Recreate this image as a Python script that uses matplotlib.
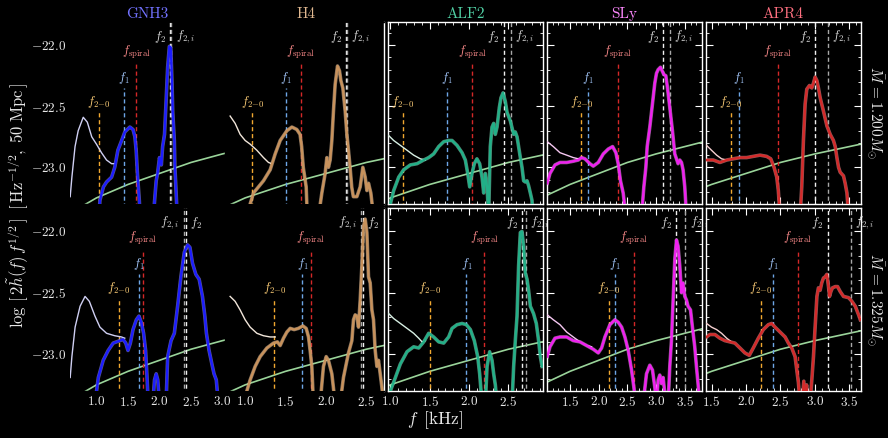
import matplotlib
matplotlib.use("Agg")
import matplotlib.pyplot as plt
from matplotlib.ticker import MultipleLocator
import matplotlib.patheffects as pe

plt.rcParams['font.family'] = 'serif'
plt.rcParams['font.serif'] = ['cmr10', 'DejaVu Serif']
plt.rcParams['mathtext.fontset'] = 'cm'
plt.rcParams['axes.formatter.use_mathtext'] = True

### EOS names and masses
eos_names = ['GNH3', 'H4', 'ALF2', 'SLy', 'APR4']
mass_labels = [r'$\bar{M}\,=1.200M_{\odot}$', r'$\bar{M}\,=1.325M_{\odot}$']

### detector noise curve (log10 of sqrt(S_n))
noise_f = [0.5, 0.8, 1.0, 1.5, 2.0, 2.5, 3.0, 3.5, 4.0]
noise_h = [-23.42, -23.31, -23.25, -23.14, -23.05, -22.96, -22.89, -22.83, -22.77]

### characteristic frequencies [kHz], one value per EOS
f20_1200 = [1.04, 1.09, 1.16, 1.70, 1.78]
f1_1200 = [1.44, 1.50, 1.72, 1.81, 1.90]
fsp_1200 = [1.63, 1.69, 2.04, 2.33, 2.46]
f2_1200 = [2.17, 2.25, 2.44, 3.12, 3.00]
f2i_1200 = [2.19, 2.26, 2.53, 3.24, 3.19]

f20_1325 = [1.36, 1.363, 1.508, 2.184, 2.218]
f1_1325 = [1.674, 1.71, 1.966, 2.283, 2.389]
fsp_1325 = [1.737, 1.814, 2.194, 2.613, 2.752]
f2_1325 = [2.42, 2.46, 2.673, 3.355, 3.184]
f2i_1325 = [2.383, 2.434, 2.728, 3.51, 3.528]

### M = 1.200 spectra (inspiral part / post-merger part)
g12_insp_f = [0.583, 0.61, 0.66, 0.71, 0.79, 0.855, 0.925, 1.0, 1.08, 1.16, 1.24, 1.29]
g12_insp_h = [-23.24, -23.08, -22.83, -22.70, -22.59, -22.63, -22.75, -22.81, -22.88, -22.94, -22.97, -22.97]
g12_pm_f = [1.03, 1.055, 1.11, 1.16, 1.24, 1.29, 1.34, 1.40, 1.45, 1.53, 1.58, 1.61, 1.63, 1.65, 1.68, 1.70,
            1.90, 1.92, 1.948, 1.97, 2.0, 2.03, 2.05, 2.08, 2.105, 2.13, 2.157, 2.18, 2.20, 2.21, 2.236, 2.245,
            2.26, 2.29]
g12_pm_h = [-23.5, -23.27, -23.16, -23.12, -23.08, -23.0, -22.86, -22.78, -22.71, -22.67, -22.69, -22.75, -22.86,
            -23.05, -23.27, -23.5, -23.5, -23.29, -23.11, -23.05, -22.92, -22.98, -22.83, -22.73, -22.46, -22.18,
            -22.01, -22.02, -22.32, -22.54, -22.78, -23.0, -23.16, -23.5]

h12_insp_f = [0.814, 0.876, 0.938, 1.0, 1.062, 1.145, 1.227, 1.289, 1.33]
h12_insp_h = [-22.58, -22.64, -22.73, -22.78, -22.81, -22.86, -22.92, -22.96, -22.97]
h12_pm_f = [1.05, 1.062, 1.103, 1.165, 1.227, 1.31, 1.372, 1.434, 1.517, 1.579, 1.64, 1.68, 1.70, 1.72, 1.756,
            1.77, 1.78, 1.90, 1.909, 1.95, 1.991, 2.012, 2.032, 2.053, 2.074, 2.094, 2.115, 2.144, 2.169, 2.186,
            2.21, 2.239, 2.26, 2.28, 2.30, 2.32, 2.34, 2.384, 2.425, 2.458, 2.487, 2.508, 2.528, 2.557, 2.59, 2.60]
h12_pm_h = [-23.5, -23.30, -23.21, -23.16, -23.11, -23.02, -22.89, -22.78, -22.70, -22.67, -22.69, -22.73, -22.83,
            -23.0, -23.16, -23.4, -23.5, -23.5, -23.4, -23.21, -23.05, -22.92, -23.0, -22.94, -22.78, -22.54,
            -22.32, -22.17, -22.21, -22.29, -22.35, -22.54, -22.73, -22.86, -23.0, -23.16, -23.24, -23.24, -23.16,
            -23.0, -23.08, -23.19, -23.13, -23.21, -23.4, -23.5]

a12_insp_f = [0.979, 1.042, 1.127, 1.212, 1.296, 1.381, 1.445]
a12_insp_h = [-22.74, -22.78, -22.82, -22.86, -22.90, -22.93, -22.94]
a12_pm_f = [0.99, 1.0, 1.042, 1.106, 1.169, 1.254, 1.339, 1.424, 1.487, 1.55, 1.614, 1.678, 1.741, 1.784, 1.847,
            1.911, 1.953, 1.983, 2.008, 2.038, 2.067, 2.10, 2.135, 2.165, 2.186, 2.207, 2.229, 2.249, 2.27, 2.292,
            2.313, 2.334, 2.356, 2.385, 2.406, 2.432, 2.461, 2.483, 2.525, 2.567, 2.588, 2.61, 2.63, 2.652, 2.673,
            2.694, 2.715, 2.737, 2.757, 2.779, 2.80, 2.82]
a12_pm_h = [-23.5, -23.30, -23.19, -23.08, -23.02, -22.98, -22.97, -22.94, -22.92, -22.89, -22.83, -22.79, -22.78,
            -22.78, -22.82, -22.88, -22.94, -23.05, -23.16, -23.05, -22.97, -22.93, -22.97, -23.08, -23.21, -23.05,
            -23.16, -23.4, -22.83, -22.67, -22.64, -22.73, -22.67, -22.51, -22.43, -22.39, -22.46, -22.55, -22.62,
            -22.73, -22.71, -22.75, -22.83, -22.92, -23.0, -23.11, -23.12, -23.11, -23.15, -23.21, -23.27, -23.5]

s12_insp_f = [1.105, 1.21, 1.326, 1.443, 1.557, 1.645]
s12_insp_h = [-22.79, -22.83, -22.88, -22.90, -22.92, -22.93]
s12_pm_f = [1.105, 1.152, 1.239, 1.326, 1.443, 1.557, 1.645, 1.703, 1.761, 1.848, 1.906, 1.993, 2.08, 2.167,
            2.243, 2.30, 2.34, 2.38, 2.427, 2.474, 2.50, 2.72, 2.747, 2.787, 2.822, 2.845, 2.891, 2.949, 2.978,
            3.007, 3.036, 3.077, 3.106, 3.135, 3.17, 3.199, 3.239, 3.285, 3.326, 3.355, 3.383, 3.413, 3.443, 3.47,
            3.50, 3.53, 3.55]
s12_pm_h = [-23.13, -23.05, -22.98, -22.96, -22.96, -22.95, -22.94, -22.92, -22.93, -22.97, -22.99, -22.96, -22.89,
            -22.85, -22.83, -22.88, -22.97, -23.11, -23.21, -23.4, -23.5, -23.5, -23.4, -23.16, -23.0, -22.83,
            -22.67, -22.43, -22.31, -22.23, -22.20, -22.18, -22.21, -22.24, -22.25, -22.35, -22.51, -22.70, -22.89,
            -22.93, -22.97, -22.94, -22.96, -23.02, -23.16, -23.4, -23.5]

p12_insp_f = [1.428, 1.50, 1.574, 1.646, 1.72]
p12_insp_h = [-22.82, -22.86, -22.90, -22.93, -22.94]
p12_pm_f = [1.428, 1.525, 1.622, 1.72, 1.815, 1.913, 2.01, 2.106, 2.204, 2.30, 2.36, 2.408, 2.447, 2.47, 2.495,
            2.51, 2.77, 2.786, 2.81, 2.834, 2.859, 2.883, 2.922, 2.956, 2.98, 3.004, 3.03, 3.052, 3.077, 3.125,
            3.175, 3.223, 3.27, 3.296, 3.32, 3.344, 3.368, 3.416, 3.44, 3.466, 3.49, 3.50]
p12_pm_h = [-22.94, -22.94, -22.96, -22.94, -22.93, -22.92, -22.92, -22.91, -22.90, -22.91, -22.93, -23.0, -23.08,
            -23.19, -23.4, -23.5, -23.5, -23.4, -23.16, -22.78, -22.48, -22.36, -22.33, -22.35, -22.31, -22.26,
            -22.29, -22.35, -22.43, -22.54, -22.66, -22.73, -22.78, -22.83, -22.92, -23.0, -23.04, -23.07, -23.13,
            -23.21, -23.4, -23.5]

### M = 1.325 spectra
g13_insp_f = [0.583, 0.61, 0.661, 0.74, 0.819, 0.887, 0.976, 1.055, 1.16, 1.29, 1.397, 1.449]
g13_insp_h = [-23.19, -23.02, -22.78, -22.61, -22.53, -22.57, -22.69, -22.78, -22.83, -22.85, -22.86, -22.87]
g13_pm_f = [0.95, 0.976, 1.03, 1.107, 1.186, 1.265, 1.37, 1.422, 1.465, 1.50, 1.538, 1.58, 1.633, 1.674, 1.711,
            1.748, 1.78, 1.80, 1.822, 1.83, 1.89, 1.894, 1.921, 1.948, 1.973, 2.0, 2.01, 2.10, 2.105, 2.13, 2.184,
            2.236, 2.288, 2.34, 2.394, 2.446, 2.483, 2.524, 2.577, 2.63, 2.682, 2.72, 2.745, 2.787, 2.84, 2.866,
            2.902, 2.934, 2.95]
g13_pm_h = [-23.5, -23.4, -23.19, -23.05, -22.97, -22.91, -22.89, -22.88, -22.91, -22.97, -22.91, -22.80, -22.72,
            -22.69, -22.74, -22.83, -22.97, -23.16, -23.4, -23.5, -23.5, -23.4, -23.21, -23.16, -23.21, -23.4,
            -23.5, -23.5, -23.4, -23.02, -22.89, -22.83, -22.61, -22.37, -22.17, -22.11, -22.13, -22.26, -22.35,
            -22.39, -22.53, -22.69, -22.83, -22.97, -23.10, -23.16, -23.21, -23.4, -23.5]

h13_insp_f = [0.814, 0.876, 0.938, 1.0, 1.062, 1.145, 1.227, 1.31, 1.372]
h13_insp_h = [-22.53, -22.57, -22.64, -22.72, -22.78, -22.83, -22.85, -22.86, -22.86]
h13_pm_f = [1.0, 1.021, 1.062, 1.124, 1.186, 1.269, 1.351, 1.40, 1.434, 1.475, 1.517, 1.558, 1.607, 1.66, 1.715,
            1.756, 1.785, 1.805, 1.826, 1.846, 1.86, 1.91, 1.929, 1.97, 2.004, 2.032, 2.074, 2.115, 2.13, 2.16,
            2.177, 2.218, 2.252, 2.28, 2.322, 2.342, 2.363, 2.384, 2.404, 2.425, 2.446, 2.466, 2.487, 2.508, 2.528,
            2.549, 2.57, 2.59, 2.611, 2.632, 2.652, 2.673, 2.694, 2.714, 2.72]
h13_pm_h = [-23.5, -23.30, -23.21, -23.10, -23.02, -22.95, -22.91, -22.90, -22.93, -22.87, -22.82, -22.79, -22.80,
            -22.79, -22.77, -22.79, -22.86, -22.97, -23.10, -23.4, -23.5, -23.5, -23.4, -23.10, -23.02, -23.05,
            -23.16, -23.4, -23.5, -23.5, -23.4, -23.19, -23.08, -22.99, -22.89, -22.72, -22.68, -22.69, -22.78,
            -22.56, -22.28, -21.96, -21.90, -22.01, -22.37, -22.42, -22.64, -22.72, -22.97, -23.10, -23.05, -23.16,
            -23.27, -23.4, -23.5]

a13_insp_f = [0.979, 1.042, 1.127, 1.212, 1.296, 1.36, 1.403, 1.445]
a13_insp_h = [-22.67, -22.71, -22.75, -22.79, -22.83, -22.87, -22.90, -22.89]
a13_pm_f = [0.99, 1.0, 1.064, 1.127, 1.212, 1.296, 1.36, 1.424, 1.487, 1.55, 1.614, 1.678, 1.741, 1.784, 1.847,
            1.911, 1.966, 2.017, 2.067, 2.11, 2.135, 2.165, 2.18, 2.20, 2.207, 2.229, 2.262, 2.292, 2.313, 2.334,
            2.356, 2.37, 2.53, 2.546, 2.567, 2.588, 2.61, 2.63, 2.652, 2.673, 2.694, 2.715, 2.737, 2.757, 2.779,
            2.80, 2.82, 2.855, 2.884, 2.906, 2.928]
a13_pm_h = [-23.5, -23.30, -23.19, -23.08, -22.98, -22.94, -22.95, -22.90, -22.83, -22.86, -22.90, -22.91, -22.86,
            -22.79, -22.76, -22.75, -22.76, -22.80, -22.89, -23.02, -23.16, -23.4, -23.5, -23.5, -23.4, -23.10,
            -22.98, -23.05, -23.16, -23.25, -23.4, -23.5, -23.5, -23.4, -23.10, -22.89, -22.69, -22.28, -22.01,
            -22.0, -22.12, -22.34, -22.39, -22.48, -22.61, -22.64, -22.67, -22.75, -22.89, -23.02, -23.10]

s13_insp_f = [1.105, 1.21, 1.326, 1.443, 1.557, 1.674, 1.79, 1.877]
s13_insp_h = [-22.68, -22.72, -22.76, -22.82, -22.86, -22.90, -22.93, -22.94]
s13_pm_f = [1.105, 1.152, 1.239, 1.326, 1.443, 1.557, 1.674, 1.79, 1.906, 1.993, 2.051, 2.109, 2.196, 2.283, 2.34,
            2.40, 2.457, 2.515, 2.573, 2.613, 2.648, 2.66, 2.76, 2.775, 2.833, 2.891, 2.938, 2.978, 3.007, 3.036,
            3.065, 3.094, 3.123, 3.17, 3.21, 3.239, 3.268, 3.297, 3.326, 3.355, 3.383, 3.413, 3.443, 3.47, 3.50,
            3.53, 3.557, 3.60, 3.633, 3.674, 3.703, 3.731, 3.76, 3.78]
s13_pm_h = [-23.02, -22.94, -22.87, -22.86, -22.86, -22.89, -22.90, -22.93, -22.96, -22.99, -22.95, -22.86, -22.76,
            -22.72, -22.74, -22.78, -22.86, -22.97, -23.13, -23.27, -23.4, -23.5, -23.5, -23.4, -23.16, -23.09,
            -23.13, -23.27, -23.4, -23.21, -23.17, -23.24, -23.19, -23.4, -23.4, -23.10, -22.89, -22.56, -22.23,
            -22.07, -22.12, -22.28, -22.50, -22.42, -22.53, -22.56, -22.61, -22.64, -22.78, -22.94, -23.10, -23.24,
            -23.4, -23.5]

p13_insp_f = [1.428, 1.50, 1.574, 1.646, 1.72, 1.79]
p13_insp_h = [-22.75, -22.78, -22.80, -22.83, -22.87, -22.90]
p13_pm_f = [1.428, 1.476, 1.549, 1.622, 1.694, 1.767, 1.84, 1.913, 1.985, 2.048, 2.106, 2.18, 2.252, 2.325, 2.374,
            2.422, 2.495, 2.568, 2.616, 2.665, 2.713, 2.738, 2.761, 2.786, 2.80, 2.84, 2.86, 2.88, 2.90, 2.93,
            2.956, 2.98, 3.004, 3.03, 3.052, 3.077, 3.10, 3.125, 3.15, 3.175, 3.198, 3.213, 3.233, 3.256, 3.296,
            3.33, 3.368, 3.416, 3.49, 3.538, 3.587, 3.635, 3.66]
p13_pm_h = [-22.86, -22.84, -22.84, -22.87, -22.89, -22.90, -22.91, -22.95, -22.99, -23.01, -22.95, -22.87, -22.80,
            -22.76, -22.75, -22.78, -22.82, -22.86, -22.91, -22.95, -23.02, -23.13, -23.23, -23.4, -23.5, -23.22,
            -23.5, -23.25, -23.5, -23.4, -23.21, -23.02, -22.78, -22.53, -22.46, -22.48, -22.42, -22.38, -22.37,
            -22.35, -22.45, -22.53, -22.49, -22.46, -22.45, -22.45, -22.49, -22.53, -22.54, -22.57, -22.61, -22.68,
            -22.72]

### group data per row (mass) and column (EOS)
insp = [[(g12_insp_f, g12_insp_h), (h12_insp_f, h12_insp_h), (a12_insp_f, a12_insp_h),
         (s12_insp_f, s12_insp_h), (p12_insp_f, p12_insp_h)],
        [(g13_insp_f, g13_insp_h), (h13_insp_f, h13_insp_h), (a13_insp_f, a13_insp_h),
         (s13_insp_f, s13_insp_h), (p13_insp_f, p13_insp_h)]]
postm = [[(g12_pm_f, g12_pm_h), (h12_pm_f, h12_pm_h), (a12_pm_f, a12_pm_h),
          (s12_pm_f, s12_pm_h), (p12_pm_f, p12_pm_h)],
         [(g13_pm_f, g13_pm_h), (h13_pm_f, h13_pm_h), (a13_pm_f, a13_pm_h),
          (s13_pm_f, s13_pm_h), (p13_pm_f, p13_pm_h)]]
freqs = [(f20_1200, f1_1200, fsp_1200, f2_1200, f2i_1200),
         (f20_1325, f1_1325, fsp_1325, f2_1325, f2i_1325)]

### styles
eos_colors = ['#1c1cff', '#c8925c', '#22b088', '#f020f0', '#d42a2a']
edge_colors = ['#9a9aff', '#f0cda8', '#90e8c8', '#ffa0ff', '#ff9a9a']
pale_colors = ['#cfcff2', '#f2e6da', '#d8f0e4', '#f6c8f2', '#f6d0d0']
title_colors = ['#7272ff', '#e0b890', '#50d0a4', '#ff88ff', '#ff7080']
xlims = [(0.58, 3.04), (0.80, 2.72), (0.97, 2.94), (1.10, 3.80), (1.42, 3.67)]
ylim = (-23.30, -21.81)

W, H = 888, 438
col_left = [70, 229, 388, 547, 706]
panel_w = 155
row_top = [22, 208]
row_bot = [204, 391]

fig = plt.figure(figsize=(W / 100, H / 100), dpi=100, facecolor='black')

for r in range(2):
    for c in range(5):
        ax = fig.add_axes([col_left[c] / W, 1 - row_bot[r] / H, panel_w / W, (row_bot[r] - row_top[r]) / H])
        ax.set_facecolor('black')
        ax.set_xlim(*xlims[c])
        ax.set_ylim(*ylim)

        # sensitivity curve
        ax.plot(noise_f, noise_h, color='#9ad49a', lw=1.2, zorder=2)

        # characteristic frequencies
        f20, f1, fsp, f2, f2i = [fl[c] for fl in freqs[r]]
        ax.plot([f20, f20], [-23.5, -22.55], ls=(0, (3, 2)), color='#f0a830', lw=1.0, zorder=3)
        ax.plot([f1, f1], [-23.5, -22.35], ls=(0, (3, 2)), color='#6ea6e6', lw=1.0, zorder=3)
        ax.plot([fsp, fsp], [-23.5, -22.15], ls=(0, (3, 2)), color='#d42828', lw=1.0, zorder=3)
        ax.plot([f2, f2], [-23.5, -21.7], ls=(0, (3, 2)), color='#f0f0f0', lw=1.0, zorder=3)
        ax.plot([f2i, f2i], [-23.5, -21.7], ls=(0, (3, 2)), color='#a8a8a8', lw=1.0, zorder=3)
        ax.text(f20, -22.53, r'$f_{2\!-\!0}$', color='#ffcf78', fontsize=9, ha='center', va='bottom')
        ax.text(f1, -22.33, r'$f_1$', color='#a6caff', fontsize=9, ha='center', va='bottom')
        ax.text(fsp, -22.13, r'$f_{\rm spiral}$', color='#ff8c8c', fontsize=9, ha='center', va='bottom')
        if f2 <= f2i:
            ax.annotate(r'$f_2$', (f2, -21.93), xytext=(-3, 0), textcoords='offset points',
                        color='#dcdcdc', fontsize=9, ha='right', va='center')
            ax.annotate(r'$f_{2,i}$', (f2i, -21.93), xytext=(3, 0), textcoords='offset points',
                        color='#dcdcdc', fontsize=9, ha='left', va='center')
        else:
            ax.annotate(r'$f_{2,i}$', (f2i, -21.93), xytext=(-3, 0), textcoords='offset points',
                        color='#dcdcdc', fontsize=9, ha='right', va='center')
            ax.annotate(r'$f_2$', (f2, -21.93), xytext=(3, 0), textcoords='offset points',
                        color='#dcdcdc', fontsize=9, ha='left', va='center')

        # spectra
        fi, hi = insp[r][c]
        ax.plot(fi, hi, color=pale_colors[c], lw=1.0, zorder=4)
        fp, hp = postm[r][c]
        ax.plot(fp, hp, color=eos_colors[c], lw=1.7, zorder=5,
                path_effects=[pe.Stroke(linewidth=2.6, foreground=edge_colors[c], alpha=0.55), pe.Normal()])

        # ticks and frame
        ax.xaxis.set_major_locator(MultipleLocator(0.5))
        ax.xaxis.set_minor_locator(MultipleLocator(0.1))
        ax.yaxis.set_major_locator(MultipleLocator(0.5))
        ax.yaxis.set_minor_locator(MultipleLocator(0.1))
        frame = '#ffffff' if c >= 2 else 'black'
        ax.tick_params(which='both', direction='in', top=True, right=True, color=frame,
                       labelcolor='#e8e8e8', labelsize=9.5, pad=3)
        ax.tick_params(which='major', length=5)
        ax.tick_params(which='minor', length=2.5)
        for side, sp in ax.spines.items():
            sp.set_color(frame)
            sp.set_linewidth(1.0)
        if c == 1:
            ax.spines['right'].set_color('white')
        if r == 0:
            ax.tick_params(labelbottom=False)
            ax.set_title(eos_names[c], color=title_colors[c], fontsize=11, pad=3)
        if c > 0:
            ax.tick_params(labelleft=False)

    fig.text(876 / W, 1 - (row_top[r] + row_bot[r]) / 2 / H, mass_labels[r], rotation=270,
             color='#e8e8e8', fontsize=11, ha='center', va='center')

fig.text(18 / W, 1 - 205 / H,
         r'$\log\,[\,2\tilde{h}(f)\,f^{1/2}\,]\;\;[\,{\rm Hz}^{-1/2},\;50\;{\rm Mpc}\,]$',
         rotation=90, color='#e8e8e8', fontsize=12, ha='center', va='center')
fig.text(435 / W, 1 - 420 / H, r'$f\;\;[{\rm kHz}]$', color='#e8e8e8', fontsize=12.5,
         ha='center', va='center')

fig.savefig('out.png', dpi=100, facecolor='black')
